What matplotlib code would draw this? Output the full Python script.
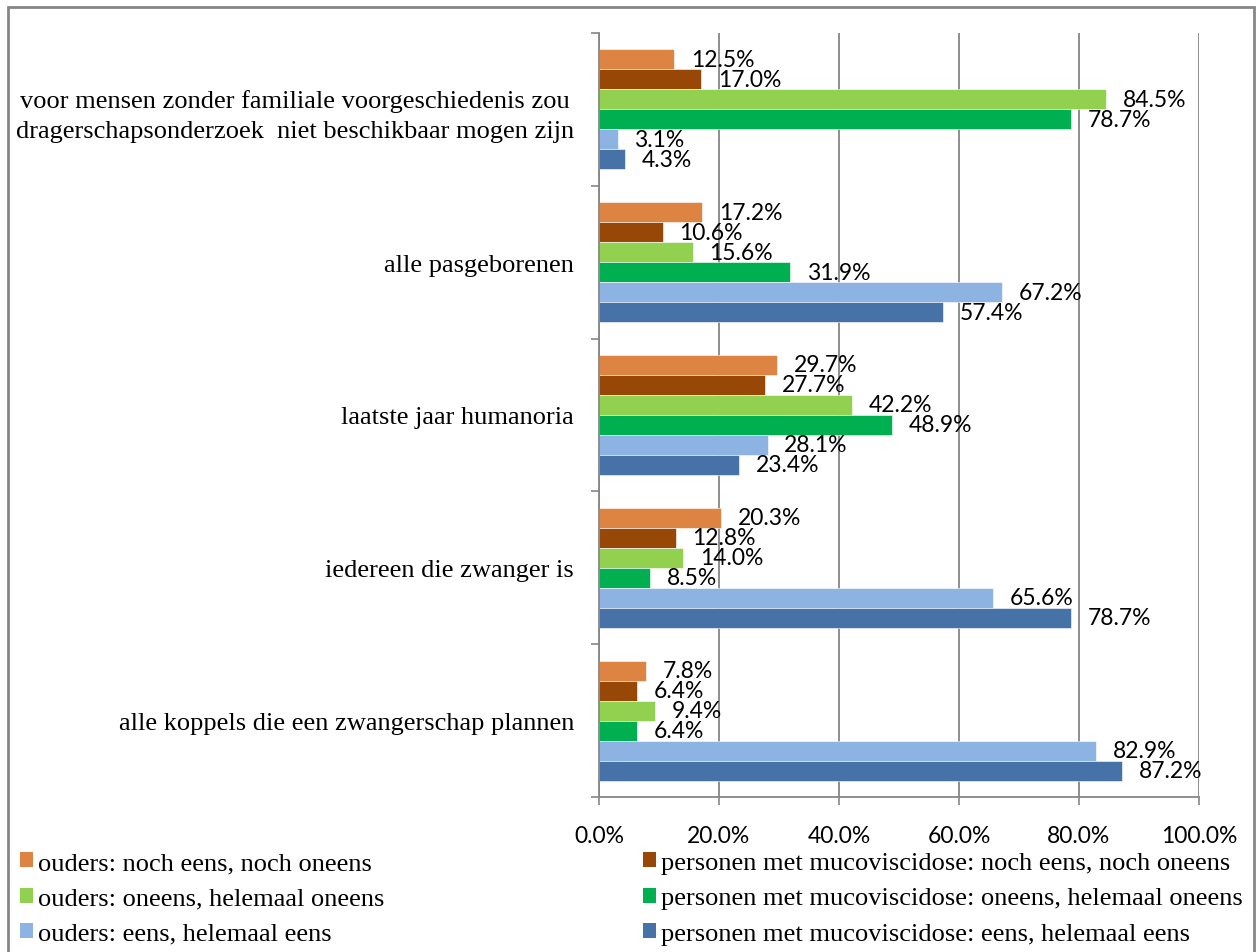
import matplotlib.pyplot as plt
from matplotlib.patches import Patch, Rectangle

categories = [
    'voor mensen zonder familiale voorgeschiedenis zou\ndragerschapsonderzoek  niet beschikbaar mogen zijn',
    'alle pasgeborenen',
    'laatste jaar humanoria',
    'iedereen die zwanger is',
    'alle koppels die een zwangerschap plannen',
]

series_names = [
    'ouders: noch eens, noch oneens',
    'personen met mucoviscidose: noch eens, noch oneens',
    'ouders: oneens, helemaal oneens',
    'personen met mucoviscidose: oneens, helemaal oneens',
    'ouders: eens, helemaal eens',
    'personen met mucoviscidose: eens, helemaal eens',
]

ouders_noch = [12.5, 17.2, 29.7, 20.3, 7.8]
personen_noch = [17.0, 10.6, 27.7, 12.8, 6.4]
ouders_oneens = [84.5, 15.6, 42.2, 14.0, 9.4]
personen_oneens = [78.7, 31.9, 48.9, 8.5, 6.4]
ouders_eens = [3.1, 67.2, 28.1, 65.6, 82.9]
personen_eens = [4.3, 57.4, 23.4, 78.7, 87.2]

series = [ouders_noch, personen_noch, ouders_oneens,
          personen_oneens, ouders_eens, personen_eens]
colors = ['#DE8442', '#974706', '#92D050', '#00B050', '#8DB3E2', '#4672A8']

W, H = 1258, 953
fig = plt.figure(figsize=(W / 100, H / 100), dpi=100)
ax = fig.add_axes([599 / W, 1 - 798 / H, 600 / W, 764 / H])

label_font = ['Lato', 'DejaVu Sans']
serif = 'Liberation Serif'

bar_h = 20 / 152.8
for j, (vals, col) in enumerate(zip(series, colors)):
    ys = [i + 0.5 + (j - 2.5) * bar_h for i in range(len(categories))]
    ax.barh(ys, vals, height=bar_h, color=col, edgecolor='white', linewidth=0.4)
    for y, v in zip(ys, vals):
        ax.annotate(f'{v:.1f}%', (v, y), xytext=(12, 0), textcoords='offset points',
                    va='center', ha='left', fontsize=16.5, family=label_font)

ax.set_xlim(0, 100)
ax.set_ylim(len(categories), 0)
ax.set_xticks(range(0, 101, 20))
ax.set_xticklabels([f'{t:.1f}%' for t in range(0, 101, 20)], family=label_font, fontsize=16.5)
ax.set_yticks(range(len(categories) + 1))
ax.set_yticklabels([])
ax.set_yticks([i + 0.5 for i in range(len(categories))], minor=True)
ax.set_yticklabels(categories, minor=True, family=serif, fontsize=19,
                   multialignment='center', linespacing=1.45)

gray = '#868686'
ax.tick_params(axis='x', length=6, width=1.2, color=gray, pad=14)
ax.tick_params(axis='y', which='major', length=6, width=1.2, color=gray)
ax.tick_params(axis='y', which='minor', length=0, pad=18)
ax.grid(axis='x', color=gray, linewidth=1.3)
ax.set_axisbelow(True)
for s in ['top', 'right']:
    ax.spines[s].set_visible(False)
for s in ['left', 'bottom']:
    ax.spines[s].set_color(gray)
    ax.spines[s].set_linewidth(1.3)

handles = [Patch(facecolor=c, edgecolor='none') for c in colors]
leg_kw = dict(frameon=False, prop={'family': serif, 'size': 19}, handlelength=0.5,
              handleheight=0.5, handletextpad=0.2, labelspacing=0.51,
              borderaxespad=0, borderpad=0)
fig.legend(handles[0::2], series_names[0::2], loc='upper left',
           bbox_to_anchor=(20 / W, 1 - 853 / H), **leg_kw)
fig.legend(handles[1::2], series_names[1::2], loc='upper left',
           bbox_to_anchor=(643 / W, 1 - 853 / H), **leg_kw)

fig.add_artist(Rectangle((8 / W, -0.05), 1246 / W, 1.05 - 8 / H,
                         transform=fig.transFigure, fill=False,
                         edgecolor=gray, linewidth=2, clip_on=False))

fig.savefig('out.png', dpi=100)
